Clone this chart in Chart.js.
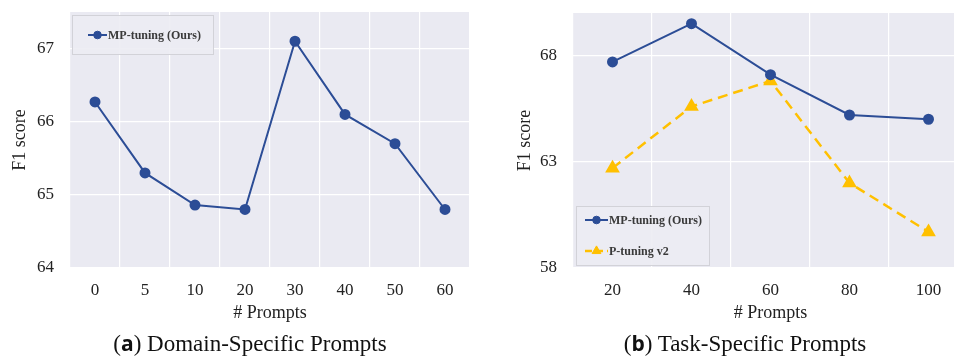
<!DOCTYPE html>
<html>
<head>
<meta charset="utf-8">
<script src="https://cdn.jsdelivr.net/npm/chart.js@4.4.1/dist/chart.umd.min.js"></script>
<style>
  html, body { margin:0; padding:0; background:#fff; }
  body { width:954px; height:358px; overflow:hidden; position:relative; }
  .wrap { position:absolute; top:0; }
  .cap { position:absolute; top:329px; font-family:'Liberation Serif', serif; font-size:23px; color:#111; white-space:nowrap; transform:translateX(-50%); }
  .cap b { font-family:'Open Sans', sans-serif; font-weight:700; font-size:21px; }
</style>
</head>
<body>
<div class="wrap" style="left:0;width:480px;height:330px"><canvas id="ca" width="480" height="330"></canvas></div>
<div class="wrap" style="left:480px;width:500px;height:330px"><canvas id="cb" width="500" height="330"></canvas></div>
<div class="cap" style="left:250px">(<b>a</b>) Domain-Specific Prompts</div>
<div class="cap" style="left:745px">(<b>b</b>) Task-Specific Prompts</div>
<script>
// ---------- data ----------
const domainPrompts = ['0','5','10','20','30','40','50','60'];
const domainMP = [66.27, 65.3, 64.86, 64.8, 67.1, 66.1, 65.7, 64.8];
const domainYTicks = [64, 65, 66, 67];

const taskPrompts = ['20','40','60','80','100'];
const taskMP = [67.7, 69.5, 67.1, 65.2, 65.0];
const taskPT = [62.7, 65.6, 66.8, 62.0, 59.7];
const taskYTicks = [58, 63, 68];

const labelMP = 'MP-tuning (Ours)';
const labelPT = 'P-tuning v2';

// ---------- style ----------
const BLUE = '#2C4D96';
const GOLD = '#FFC000';
const BG = '#EAEAF2';
const tickFont = { family: "'Liberation Serif', serif", size: 17 };
const titleFont = { family: "'Liberation Serif', serif", size: 18 };

const bgPlugin = {
  id: 'plotbg',
  beforeDraw(chart) {
    const { ctx, chartArea: a } = chart;
    ctx.save();
    ctx.fillStyle = BG;
    ctx.fillRect(a.left, a.top, a.right - a.left, a.bottom - a.top);
    ctx.restore();
  }
};

const legendPlugin = {
  id: 'inlegend',
  afterDatasetsDraw(chart, args, o) {
    const { ctx, chartArea: a } = chart;
    const x = a.left + o.dx, y = a.top + o.dy;
    ctx.save();
    ctx.fillStyle = 'rgba(236,236,243,0.9)';
    ctx.fillRect(x, y, o.w, o.h);
    ctx.strokeStyle = '#D2D2D8';
    ctx.lineWidth = 1;
    ctx.strokeRect(x + 0.5, y + 0.5, o.w - 1, o.h - 1);
    chart.data.datasets.forEach((ds, i) => {
      const cy = y + o.rows[i];
      const lx0 = x + o.lineX0, lx1 = lx0 + o.lineLen;
      ctx.strokeStyle = ds.borderColor;
      ctx.lineWidth = ds.borderWidth;
      ctx.setLineDash(ds.borderDash ? [7, 4] : []);
      ctx.beginPath(); ctx.moveTo(lx0, cy); ctx.lineTo(lx1, cy); ctx.stroke();
      ctx.setLineDash([]);
      ctx.fillStyle = ds.borderColor;
      ctx.strokeStyle = ds.borderColor;
      ctx.lineWidth = 1;
      Chart.helpers.drawPoint(ctx, {
        pointStyle: ds.pointStyle, radius: ds.pointRadius * 0.85, borderWidth: 1, rotation: 0
      }, (lx0 + lx1) / 2, cy);
      ctx.fillStyle = '#3a3a3a';
      ctx.font = "bold 12px 'Liberation Serif', serif";
      ctx.textBaseline = 'middle';
      ctx.textAlign = 'left';
      ctx.fillText(ds.label, lx1 + 1, cy + 0.5);
    });
    ctx.restore();
  }
};

function yAxis(min, max, ticks, width) {
  return {
    min, max,
    afterBuildTicks(s) { s.ticks = ticks.map(v => ({ value: v })); },
    afterFit(s) { s.width = width; s.paddingTop = 0; s.paddingBottom = 0; },
    grid: { color: '#FFFFFF', lineWidth: 1.2, drawTicks: false },
    border: { display: false },
    ticks: { font: tickFont, color: '#222', padding: 16 },
    title: { display: true, text: 'F1 score', font: titleFont, color: '#222', padding: { top: 9, bottom: 0 } }
  };
}
function xAxis() {
  return {
    type: 'category',
    offset: true,
    afterFit(s) { s.height = 62; s.paddingLeft = 0; s.paddingRight = 0; },
    grid: { color: '#FFFFFF', lineWidth: 1.2, drawTicks: false, offset: true },
    border: { display: false },
    ticks: { font: tickFont, color: '#222', padding: 12, maxRotation: 0 },
    title: { display: true, text: '# Prompts', font: titleFont, color: '#222', padding: { top: 0, bottom: 6 } }
  };
}

Chart.defaults.animation = false;

new Chart(document.getElementById('ca'), {
  type: 'line',
  data: {
    labels: domainPrompts,
    datasets: [{
      label: labelMP, data: domainMP,
      borderColor: BLUE, backgroundColor: BLUE, borderWidth: 2,
      pointStyle: 'circle', pointRadius: 4.5, pointBackgroundColor: BLUE, pointBorderColor: BLUE
    }]
  },
  options: {
    responsive: false,
    layout: { padding: { left: 0, right: 10, top: 12, bottom: 0 } },
    plugins: {
      legend: { display: false }, tooltip: { enabled: false },
      inlegend: { dx: 2, dy: 3, w: 142, h: 40, rows: [20], lineX0: 16, lineLen: 19 }
    },
    scales: { x: xAxis(), y: yAxis(64, 67.5, domainYTicks, 70) }
  },
  plugins: [bgPlugin, legendPlugin]
});

new Chart(document.getElementById('cb'), {
  type: 'line',
  data: {
    labels: taskPrompts,
    datasets: [{
      label: labelMP, data: taskMP,
      borderColor: BLUE, backgroundColor: BLUE, borderWidth: 2,
      pointStyle: 'circle', pointRadius: 4.5, pointBackgroundColor: BLUE, pointBorderColor: BLUE
    }, {
      label: labelPT, data: taskPT,
      borderColor: GOLD, backgroundColor: GOLD, borderWidth: 2.5, borderDash: [10, 6],
      pointStyle: 'triangle', pointRadius: 6, pointBackgroundColor: GOLD, pointBorderColor: GOLD
    }]
  },
  options: {
    responsive: false,
    layout: { padding: { left: 25, right: 12, top: 13, bottom: 0 } },
    plugins: {
      legend: { display: false }, tooltip: { enabled: false },
      inlegend: { dx: 3, dy: 193, w: 134, h: 60, rows: [14, 45], lineX0: 9, lineLen: 23 }
    },
    scales: { x: xAxis(), y: yAxis(58, 70, taskYTicks, 68) }
  },
  plugins: [bgPlugin, legendPlugin]
});
</script>
</body>
</html>
